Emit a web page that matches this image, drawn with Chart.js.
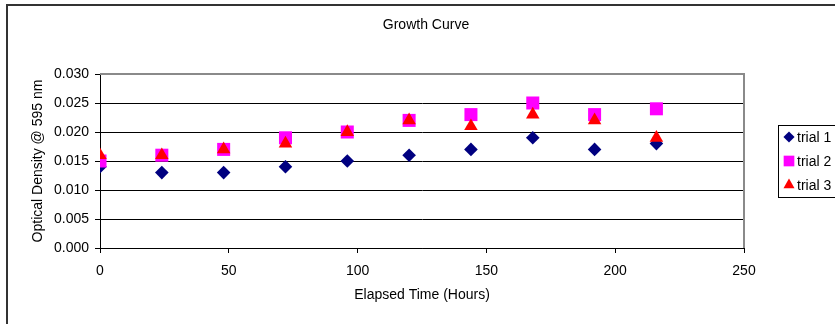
<!DOCTYPE html>
<html>
<head>
<meta charset="utf-8">
<title>Growth Curve</title>
<script src="https://cdn.jsdelivr.net/npm/chart.js@4"></script>
<style>
  html, body { margin: 0; padding: 0; background: #fff; }
  #wrap { width: 835px; height: 324px; }
</style>
</head>
<body>
<div id="wrap"><canvas id="chart" width="835" height="324"></canvas></div>
<script>
// Elapsed time of each reading, in hours
const hours = [0, 24, 48, 72, 96, 120, 144, 168, 192, 216];

// Optical density at 595 nm for each trial
const trial1 = [0.014, 0.013, 0.013, 0.014, 0.015, 0.016, 0.017, 0.019, 0.017, 0.018];
const trial2 = [0.015, 0.016, 0.017, 0.019, 0.020, 0.022, 0.023, 0.025, 0.023, 0.024];
const trial3 = [0.016, 0.016, 0.017, 0.018, 0.020, 0.022, 0.021, 0.023, 0.022, 0.019];

const seriesNames = ['trial 1', 'trial 2', 'trial 3'];

// Axis tick settings
const xTicks = { min: 0, max: 250, step: 50 };
const yTicks = { min: 0, max: 0.030, step: 0.005 };

const FONT = { family: '"Liberation Sans", Arial, Helvetica, sans-serif', size: 14 };

function toPoints(values) {
  return hours.map((h, i) => ({ x: h, y: values[i] }));
}

// Outer frame of the whole chart object
const framePlugin = {
  id: 'frame',
  beforeDraw(chart) {
    const ctx = chart.ctx;
    ctx.save();
    ctx.fillStyle = '#fff';
    ctx.fillRect(0, 0, chart.width, chart.height);
    ctx.strokeStyle = '#333';
    ctx.lineWidth = 2;
    ctx.beginPath();
    ctx.moveTo(chart.width + 2, 5);
    ctx.lineTo(7, 5);
    ctx.lineTo(7, chart.height + 2);
    ctx.stroke();
    ctx.restore();
  }
};

// Grey plot-area border on the top and right edges
const plotBorderPlugin = {
  id: 'plotBorder',
  beforeDatasetsDraw(chart) {
    const { ctx, chartArea: a } = chart;
    ctx.save();
    ctx.strokeStyle = '#8a8a8a';
    ctx.lineWidth = 2;
    ctx.beginPath();
    ctx.moveTo(a.left, a.top);
    ctx.lineTo(a.right, a.top);
    ctx.lineTo(a.right, a.bottom);
    ctx.stroke();
    ctx.restore();
  }
};

// Boxed legend, added as a layout box on the right of the plot
function makeLegendBox(chart) {
  return {
    position: 'right',
    weight: 0,
    fullSize: false,
    options: {},
    left: 0, top: 0, right: 0, bottom: 0, width: 0, height: 0,
    isHorizontal() { return false; },
    update(maxWidth, maxHeight) {
      this.width = 91;
      this.height = maxHeight;
    },
    draw() {
      const ctx = chart.ctx;
      const rowH = 24;
      const n = chart.data.datasets.length;
      const boxLeft = this.left + 34;
      const boxTop = Math.round((this.top + this.bottom) / 2 - rowH * n / 2);
      ctx.save();
      ctx.strokeStyle = '#000';
      ctx.lineWidth = 1;
      ctx.strokeRect(boxLeft + 0.5, boxTop + 0.5, chart.width, rowH * n);
      ctx.font = FONT.size + 'px ' + FONT.family;
      ctx.textBaseline = 'middle';
      ctx.textAlign = 'left';
      chart.data.datasets.forEach((ds, i) => {
        const cy = boxTop + 12 + i * rowH;
        const cx = boxLeft + 11;
        ctx.fillStyle = ds.backgroundColor;
        Chart.helpers.drawPoint(ctx, {
          pointStyle: ds.pointStyle,
          radius: ds.pointRadius * 0.82,
          rotation: 0,
          borderWidth: 0
        }, cx, cy);
        ctx.fillStyle = '#000';
        ctx.fillText(ds.label, boxLeft + 19, cy + 1);
      });
      ctx.restore();
    }
  };
}

const boxLegendPlugin = {
  id: 'boxLegend',
  install(chart) {
    Chart.layouts.addBox(chart, makeLegendBox(chart));
  }
};

new Chart(document.getElementById('chart'), {
  type: 'scatter',
  data: {
    datasets: [
      {
        label: seriesNames[0],
        data: toPoints(trial1),
        pointStyle: 'rectRot',
        pointRadius: 6.8,
        backgroundColor: '#000080',
        borderColor: '#000080',
        borderWidth: 0,
        order: 3
      },
      {
        label: seriesNames[1],
        data: toPoints(trial2),
        pointStyle: 'rect',
        pointRadius: 9.2,
        backgroundColor: '#FF00FF',
        borderColor: '#FF00FF',
        borderWidth: 0,
        order: 2
      },
      {
        label: seriesNames[2],
        data: toPoints(trial3),
        pointStyle: 'triangle',
        pointRadius: 7.8,
        backgroundColor: '#FF0000',
        borderColor: '#FF0000',
        borderWidth: 0,
        order: 1
      }
    ]
  },
  options: {
    responsive: false,
    animation: false,
    devicePixelRatio: 1,
    layout: { padding: { left: 17, top: 6, right: 0, bottom: 0 } },
    plugins: {
      legend: { display: false },
      tooltip: { enabled: false },
      title: {
        display: true,
        text: 'Growth Curve',
        color: '#000',
        font: { family: FONT.family, size: FONT.size, weight: 'normal' },
        padding: { top: 10.6, bottom: 40.6 }
      }
    },
    scales: {
      x: {
        type: 'linear',
        min: xTicks.min,
        max: xTicks.max,
        afterFit(scale) { scale.height = 76; },
        ticks: {
          stepSize: xTicks.step,
          color: '#000',
          font: FONT,
          padding: 10,
          maxRotation: 0
        },
        grid: {
          drawOnChartArea: false,
          drawTicks: true,
          tickLength: 5,
          color: '#000'
        },
        border: { display: true, color: '#000', width: 1 },
        title: {
          display: true,
          text: 'Elapsed Time (Hours)',
          color: '#000',
          font: FONT,
          padding: { top: 4, bottom: 20 }
        }
      },
      y: {
        type: 'linear',
        min: yTicks.min,
        max: yTicks.max,
        afterFit(scale) { scale.width = 83; },
        ticks: {
          stepSize: yTicks.step,
          color: '#000',
          font: FONT,
          padding: 6,
          callback: (v) => Number(v).toFixed(3)
        },
        grid: {
          drawOnChartArea: true,
          drawTicks: true,
          tickLength: 5,
          color: '#000',
          lineWidth: 1
        },
        border: { display: true, color: '#000', width: 1 },
        title: {
          display: true,
          text: 'Optical Density @ 595 nm',
          color: '#000',
          font: FONT,
          padding: { top: 12.6, bottom: 4 }
        }
      }
    }
  },
  plugins: [framePlugin, plotBorderPlugin, boxLegendPlugin]
});
</script>
</body>
</html>
